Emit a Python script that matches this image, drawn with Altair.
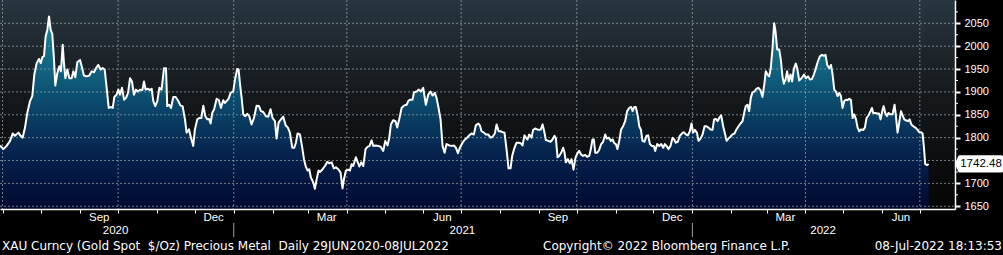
import altair as alt
import pandas as pd

# ---- data: day offsets from 29-Jun-2020 and gold spot price ($/oz) ----
days_a = [0, 2.7, 5.3, 8, 10.1, 11.9, 14.6, 16.4, 18, 19.9,
          21.7, 23.9, 25.7, 27.3, 29.2, 31, 32.4, 33.7, 35, 36.3,
          37.7, 39, 40.3, 41.6, 43, 44, 45.6, 47.2, 48.5, 49.9,
          50.9, 52, 53.6, 55.2, 57, 58.4, 59.9, 61.5, 63.7, 65,
          66.8, 69, 71.1, 72.9, 74.8, 76.4, 78.2, 80.1, 81.7, 83.3,
          84.9, 86.5, 88.3, 89.7, 91, 92.8, 94.2, 95.5, 97.1, 98.7,
          100.3, 101.9, 103.5, 105, 106.6, 108.2, 109.8, 111.4, 113.3, 114.6,
          115.9, 117.8, 119.4, 120.7, 122, 123.6, 125.2, 126.8]
vals_a = [1783, 1775, 1782, 1793, 1809, 1804, 1811, 1804, 1800, 1822,
          1854, 1880, 1891, 1938, 1963, 1972, 1963, 1976, 1978, 2021,
          2036, 2065, 2036, 2027, 1970, 1914, 1941, 1956, 1945, 2003,
          1963, 1930, 1949, 1930, 1930, 1945, 1932, 1965, 1970, 1956,
          1936, 1934, 1936, 1945, 1943, 1952, 1959, 1949, 1952, 1949,
          1909, 1865, 1867, 1865, 1889, 1894, 1905, 1894, 1909, 1883,
          1887, 1898, 1930, 1923, 1894, 1905, 1901, 1905, 1904, 1923,
          1905, 1907, 1904, 1907, 1880, 1869, 1880, 1909]

days_b = [128.6, 130.5, 132.1, 133.1, 134.7, 136.1, 137.9, 139.8, 141.9, 143.7,
          145.3, 147.2, 148.5, 150.4, 152, 153.8, 155.1, 157, 158.6, 160.2,
          161.8, 163.4, 165, 166.3, 167.6, 168.9, 170.5, 172.4, 174.2, 175.8,
          177.7, 179, 180.3, 181.9, 183.5, 185.6, 187.2, 188.8, 189.9, 190.9,
          192.3, 193.6, 195.2, 196.8, 198.4, 200.2, 202.1, 204.2, 206.1, 207.7,
          209.5, 211.6, 213.5, 215.3, 216.9, 218.8, 220.1, 221.7, 223.6, 225.4,
          227.3, 229.1, 230.7, 232.6, 234.2, 235.5, 236.8, 238.7, 240.3, 241.9,
          243.2, 244.8, 246.1, 247.4, 249.3, 250.6, 252, 253.5]
vals_b = [1905, 1952, 1952, 1869, 1872, 1865, 1889, 1889, 1880, 1870,
          1869, 1840, 1811, 1818, 1800, 1782, 1818, 1840, 1843, 1843,
          1870, 1847, 1840, 1841, 1831, 1854, 1863, 1885, 1882, 1865,
          1882, 1876, 1880, 1885, 1898, 1901, 1930, 1950, 1949, 1920,
          1887, 1851, 1847, 1852, 1847, 1829, 1843, 1870, 1869, 1858,
          1856, 1847, 1846, 1862, 1843, 1836, 1798, 1833, 1840, 1846,
          1827, 1822, 1811, 1778, 1778, 1789, 1809, 1807, 1782, 1753,
          1738, 1728, 1731, 1713, 1702, 1688, 1709, 1728]

days_c = [254.6, 256.7, 258.6, 260.4, 262, 263.9, 265.7, 267.3, 269.2, 271,
          272.6, 273.7, 275.3, 277.1, 278.5, 279.8, 281.1, 283.2, 284.6, 285.9,
          287.5, 289.1, 290.9, 292.5, 294.1, 295.7, 297, 298.9, 301, 302.9,
          305, 306.6, 308.4, 309.8, 311.1, 312.9, 314.8, 316.1, 317.7, 319.6,
          321.4, 323.6, 324.9, 326.2, 328.3, 329.4, 331.5, 333.4, 335, 336.8,
          338.9, 340.8, 342.6, 344.2, 346.1, 347.4, 349, 350.6, 352.2, 353.8,
          355.4, 357.5, 359.4, 361.2, 362.8, 364.4, 366, 368.1, 370, 371.8,
          373.4, 375.3, 377.1, 378.7, 380.6]
vals_c = [1725, 1731, 1738, 1747, 1744, 1746, 1733, 1735, 1731, 1724,
          1689, 1709, 1728, 1730, 1728, 1742, 1738, 1757, 1747, 1737,
          1746, 1738, 1775, 1780, 1782, 1794, 1782, 1783, 1782, 1780,
          1771, 1793, 1783, 1800, 1829, 1838, 1836, 1822, 1840, 1865,
          1870, 1872, 1880, 1883, 1883, 1899, 1901, 1905, 1901, 1909,
          1872, 1894, 1901, 1892, 1898, 1887, 1865, 1840, 1782, 1767,
          1786, 1783, 1782, 1783, 1778, 1766, 1778, 1789, 1796, 1800,
          1805, 1809, 1807, 1827, 1831]

days_d = [381.9, 383.2, 385.1, 386.7, 388.5, 390.4, 392, 393.8, 395.2, 396.8,
          398.3, 399.9, 401.5, 403.1, 404.7, 406.3, 407.6, 409.2, 411.1, 412.7,
          414.3, 415.8, 417.4, 418.5, 419.8, 421.2, 423, 424.3, 425.9, 427.5,
          429.1, 430.4, 431.8, 433.1, 434.4, 436.3, 438.1, 439.7, 441.3, 442.4,
          443.7, 445, 446.6, 448.2, 449.3, 450.3, 451.9, 453.5, 454.8, 456.4,
          458, 459.6, 460.9, 462.5, 464.1, 465.7, 467.3, 468.9, 470.2, 471.5,
          472.6, 473.7, 475.3, 476.8, 478.4, 480, 481.6, 482.9, 484.5, 486.1,
          487.5, 488.8, 490.1, 491.4, 492.8, 494.3, 495.9, 497.5, 499.1, 500.7,
          502.3, 503.4, 504.7, 506, 507.6, 508.7]
vals_d = [1827, 1814, 1811, 1807, 1807, 1800, 1802, 1809, 1829, 1814,
          1814, 1812, 1811, 1775, 1733, 1733, 1760, 1776, 1789, 1789,
          1788, 1783, 1805, 1800, 1796, 1807, 1800, 1817, 1820, 1818,
          1817, 1818, 1829, 1814, 1795, 1793, 1791, 1796, 1804, 1798,
          1757, 1760, 1767, 1778, 1767, 1746, 1753, 1744, 1753, 1730,
          1757, 1766, 1771, 1763, 1760, 1762, 1758, 1760, 1775, 1796,
          1796, 1767, 1767, 1773, 1786, 1791, 1807, 1798, 1800, 1793,
          1796, 1788, 1786, 1775, 1793, 1818, 1825, 1836, 1858, 1865,
          1867, 1858, 1867, 1867, 1847, 1825]

days_e = [510, 511.3, 512.9, 514.5, 515.8, 517.2, 518.7, 520.3, 521.4, 523,
          524.6, 526.2, 527.8, 529.1, 530.4, 532, 533.6, 535.2, 536.5, 537.8,
          539.4, 541, 542.6, 544.2, 545.8, 547.4, 549, 550.3, 551.6, 553,
          554.6, 555.9, 557.5, 559.1, 560.7, 562.2, 563.8, 565.4, 567, 568.3,
          569.7, 571, 572.3, 573.9, 575.5, 577.1, 578.2, 579.7, 581.3, 582.9,
          584.5, 586.1, 587.7, 589.3, 590.9, 592.2, 593.5, 594.9, 596.2, 597.5,
          598.8, 600.4, 602, 603.6, 605.2, 606.8, 608.4, 609.4, 610.8, 612.1,
          613.4, 614.7, 616.1, 617.1, 618.5, 620.1, 621.4, 622.7, 623.8, 625.1,
          626.4, 627.7, 629.1, 630.4, 631.7, 633.3, 634.6, 636]
vals_e = [1818, 1793, 1791, 1804, 1805, 1786, 1782, 1782, 1771, 1786,
          1782, 1786, 1778, 1786, 1782, 1775, 1782, 1800, 1796, 1789,
          1791, 1804, 1809, 1812, 1807, 1805, 1814, 1831, 1811, 1817,
          1811, 1793, 1798, 1807, 1825, 1825, 1822, 1818, 1817, 1840,
          1841, 1836, 1843, 1849, 1825, 1807, 1793, 1798, 1802, 1807,
          1809, 1818, 1825, 1831, 1836, 1854, 1869, 1872, 1858, 1887,
          1899, 1901, 1907, 1909, 1904, 1889, 1920, 1945, 1938, 1934,
          1952, 1993, 2050, 2034, 1993, 1993, 1970, 1934, 1918, 1927,
          1945, 1923, 1938, 1923, 1950, 1962, 1950, 1925]

days_f = [637.9, 639.8, 641.4, 643, 644.6, 646.1, 647.7, 649.3, 650.9,
          652.5, 654.1, 655.7, 657, 658.3, 659.9, 661.3, 662.6, 663.9, 665.2,
          666.6, 667.9, 669.2, 670.5, 671.9, 673.2, 674.5, 675.8, 677.2, 678.5,
          679.8, 681.2, 682.5, 683.8, 685.1, 687, 688.3, 689.6, 691.2, 692.8,
          693.9, 694.9, 696.5, 698.1, 699.5, 700.8, 702.1, 703.2, 704.5, 705.8,
          707.1, 708.7, 710.3, 711.9, 713, 714.3, 715.6, 717, 718.3, 719.6,
          720.9, 722.5, 723.9, 725.2, 726.8, 728.4, 730, 731.5, 733.1, 734.2,
          735.3, 736.3, 737.9, 739]
vals_f = [1930, 1938, 1930, 1934, 1927, 1928, 1938, 1952, 1967,
          1978, 1981, 1979, 1981, 1959, 1952, 1959, 1938, 1905, 1901,
          1891, 1898, 1891, 1865, 1880, 1883, 1882, 1885, 1882, 1843,
          1851, 1840, 1822, 1814, 1818, 1817, 1822, 1843, 1849, 1858,
          1865, 1854, 1854, 1853, 1853, 1840, 1858, 1869, 1854, 1847,
          1854, 1851, 1851, 1872, 1847, 1811, 1833, 1858, 1849, 1840,
          1838, 1836, 1840, 1829, 1825, 1822, 1818, 1812, 1812, 1809,
          1778, 1742, 1740, 1742.48]

last_price = 1742.48
y_ticks = [1650, 1700, 1750, 1800, 1850, 1900, 1950, 2000, 2050]
y_minor = [1675, 1725, 1775, 1825, 1875, 1925, 1975, 2025, 2075]
month_starts = ["2020-07-01", "2020-08-01", "2020-09-01", "2020-10-01", "2020-11-01", "2020-12-01",
                "2021-01-01", "2021-02-01", "2021-03-01", "2021-04-01", "2021-05-01", "2021-06-01",
                "2021-07-01", "2021-08-01", "2021-09-01", "2021-10-01", "2021-11-01", "2021-12-01",
                "2022-01-01", "2022-02-01", "2022-03-01", "2022-04-01", "2022-05-01", "2022-06-01",
                "2022-07-01"]
quarter_starts = ["2020-07-01", "2020-10-01", "2021-01-01", "2021-04-01", "2021-07-01",
                  "2021-10-01", "2022-01-01", "2022-04-01", "2022-07-01"]
month_label_dates = ["2020-09-16", "2020-12-16", "2021-03-16", "2021-06-16",
                     "2021-09-16", "2021-12-16", "2022-03-16", "2022-06-16"]
month_labels = ["Sep", "Dec", "Mar", "Jun", "Sep", "Dec", "Mar", "Jun"]
year_label_dates = ["2020-09-29", "2021-07-02", "2022-04-15"]
year_labels = ["2020", "2021", "2022"]
year_separators = ["2021-01-01", "2022-01-01"]
footer_texts = ["XAU Curncy (Gold Spot\u00a0 $/Oz) Precious Metal\u00a0 Daily 29JUN2020-08JUL2022",
                "Copyright\u00a9 2022 Bloomberg Finance L.P.",
                "08-Jul-2022 18:13:53"]


def ts(s):
    return int(pd.Timestamp(s, tz="UTC").value // 10**6)


START = ts("2020-06-29")
DAY = 86400000

pairs = list(zip(days_a, vals_a)) + list(zip(days_b, vals_b)) + list(zip(days_c, vals_c)) + \
    list(zip(days_d, vals_d)) + list(zip(days_e, vals_e)) + list(zip(days_f, vals_f))
price = pd.DataFrame({"t": [START + d * DAY for d, _ in pairs], "v": [v for _, v in pairs]})

W, H = 955, 209
FONT = "Liberation Sans"
FOOT_FONT = "DejaVu Sans"

xscale = alt.Scale(type="utc", domain=[ts("2020-06-29"), ts("2022-07-29")])
yscale = alt.Scale(domain=[1644, 2101], zero=False, nice=False)
xaxis = alt.Axis(values=[ts(m) for m in month_starts], labels=False, tickSize=4, tickWidth=1,
                 tickColor="white", domainColor="white", domainWidth=1.5, grid=False,
                 title=None, zindex=2)
yaxis = alt.Axis(orient="right", values=y_ticks, tickSize=5, tickWidth=2, tickColor="white",
                 domainColor="white", domainWidth=1.5, labelColor="white", labelFont=FONT,
                 labelFontSize=11, labelPadding=4, grid=False, title=None, zindex=1,
                 labelBaseline="middle", labelFlush=False, labelOverlap=False, format="d",
                 labelExpr="datum.value == 1750 ? '' : datum.label")


def X(field):
    return alt.X(field, type="temporal", scale=xscale, axis=xaxis)


def Y(field):
    return alt.Y(field, type="quantitative", scale=yscale, axis=yaxis)


bg = alt.Chart(pd.DataFrame({"a": [0]})).mark_rect(
    color=alt.Gradient(gradient="linear", x1=0, x2=0, y1=0, y2=1,
                       stops=[alt.GradientStop(color="#28363f", offset=0),
                              alt.GradientStop(color="#15191c", offset=0.45),
                              alt.GradientStop(color="#050505", offset=1)])
).encode(x=alt.value(0), x2=alt.value(W), y=alt.value(0), y2=alt.value(H))

area = alt.Chart(price).mark_area(
    color=alt.Gradient(gradient="linear", x1=0, x2=0, y1=0, y2=1,
                       stops=[alt.GradientStop(color="#1c879b", offset=0),
                              alt.GradientStop(color="#0e5878", offset=0.35),
                              alt.GradientStop(color="#05244e", offset=0.7),
                              alt.GradientStop(color="#010830", offset=1)])
).encode(x=X("t"), y=Y("v"), y2=alt.datum(1644))

hgrid = alt.Chart(pd.DataFrame({"g": y_ticks})).mark_rule(
    color="#9aa0a6", strokeDash=[2, 2], strokeWidth=1, opacity=0.75
).encode(y=Y("g"), x=alt.value(0), x2=alt.value(W))

vgrid = alt.Chart(pd.DataFrame({"q": [ts(q) for q in quarter_starts]})).mark_rule(
    color="#9aa0a6", strokeDash=[2, 2], strokeWidth=1, opacity=0.75
).encode(x=X("q"), y=alt.value(0), y2=alt.value(H))

line = alt.Chart(price).mark_line(color="white", strokeWidth=2, strokeJoin="round").encode(
    x=X("t"), y=Y("v"))

minor = alt.Chart(pd.DataFrame({"m": y_minor})).mark_rule(color="white", strokeWidth=1).encode(
    y=Y("m"), x=alt.value(W), x2=alt.value(W + 3))

months = alt.Chart(pd.DataFrame({"d": [ts(d) for d in month_label_dates], "lab": month_labels})).mark_text(
    color="white", font=FONT, fontSize=11.5, baseline="middle", align="center"
).encode(x=X("d"), y=alt.value(218), text="lab:N")

years = alt.Chart(pd.DataFrame({"d": [ts(d) for d in year_label_dates], "lab": year_labels})).mark_text(
    color="white", font=FONT, fontSize=11.5, baseline="middle", align="center"
).encode(x=X("d"), y=alt.value(231), text="lab:N")

seps = alt.Chart(pd.DataFrame({"d": [ts(d) for d in year_separators]})).mark_rule(
    color="#9a9a9a", strokeWidth=1
).encode(x=X("d"), y=alt.value(223), y2=alt.value(237))

foot_df = pd.DataFrame({"txt": footer_texts, "px": [2, 543, 1002]})
footer_l = alt.Chart(foot_df.iloc[[0, 1]]).mark_text(
    color="white", font=FOOT_FONT, fontSize=12, baseline="middle", align="left"
).encode(x=alt.X("px:Q", scale=None), y=alt.value(246), text="txt:N")
footer_r = alt.Chart(foot_df.iloc[[2]]).mark_text(
    color="white", font=FOOT_FONT, fontSize=12, baseline="middle", align="right"
).encode(x=alt.X("px:Q", scale=None), y=alt.value(246), text="txt:N")

tag_df = pd.DataFrame({"v": [last_price], "lab": [f"{last_price:.2f}"]})
tag_box = alt.Chart(tag_df).mark_point(
    shape="M -1 0 L -0.86 -0.34 Q -0.84 -0.36 -0.8 -0.36 L 0.94 -0.36 Q 1 -0.36 1 -0.3 "
          "L 1 0.3 Q 1 0.36 0.94 0.36 L -0.8 0.36 Q -0.84 0.36 -0.86 0.34 Z",
    size=2304, filled=True, color="white", opacity=1, strokeWidth=0
).encode(x=alt.value(979), y=Y("v"))
tag_txt = alt.Chart(tag_df).mark_text(
    color="black", font=FONT, fontSize=11.5, baseline="middle", align="center"
).encode(x=alt.value(981), y=Y("v"), text="lab:N")

chart = alt.layer(bg, area, hgrid, vgrid, line, minor, months, years, seps,
                  footer_l, footer_r, tag_box, tag_txt).properties(
    width=W, height=H, autosize="none",
    padding={"left": 0, "top": 0, "right": 48, "bottom": 46},
    background="#000000"
).configure_view(stroke=None)

chart.save("out.html", embed_options={"renderer": "svg", "actions": False})
